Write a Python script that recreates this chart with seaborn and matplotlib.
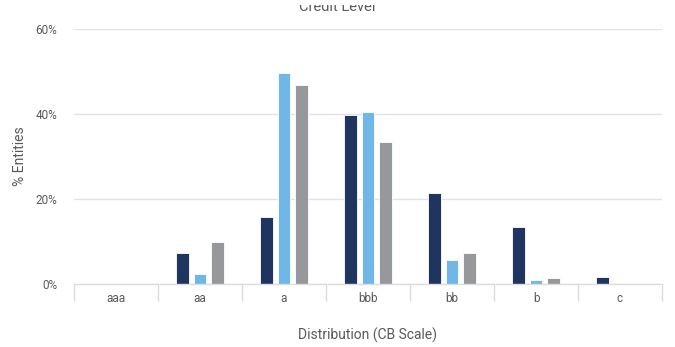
import matplotlib
matplotlib.use("Agg")
import matplotlib.pyplot as plt
from matplotlib.patches import Rectangle
import seaborn as sns
import pandas as pd
import numpy as np

categories = ["aaa", "aa", "a", "bbb", "bb", "b", "c"]
series_names = ["Series A", "Series B", "Series C"]
series_a = [0.0, 7.2, 15.8, 39.7, 21.3, 13.3, 1.6]
series_b = [0.0, 2.3, 49.6, 40.5, 5.6, 0.9, 0.0]
series_c = [0.0, 9.9, 46.9, 33.3, 7.3, 1.4, 0.0]
y_ticks = [0, 20, 40, 60]
colors = ["#1f3560", "#70b7e7", "#96989b"]

df = pd.DataFrame({
    "category": categories * 3,
    "series": [series_names[0]] * 7 + [series_names[1]] * 7 + [series_names[2]] * 7,
    "value": series_a + series_b + series_c,
})

sns.set_theme(style="white")
plt.rcParams["font.family"] = ["Roboto", "DejaVu Sans"]

fig = plt.figure(figsize=(6.75, 3.47), dpi=100)
ax = fig.add_axes([74 / 675, 1 - 284 / 347, (662 - 74) / 675, (284 - 29) / 347])

sns.barplot(data=df, x="category", y="value", hue="series", order=categories,
            hue_order=series_names, palette=colors, width=0.62, gap=0.26,
            saturation=1, errorbar=None, legend=False, ax=ax,
            edgecolor="white", linewidth=0.6)

ax.set_xlim(-0.5, len(categories) - 0.5)
ax.set_ylim(0, 60)
ax.set_yticks(y_ticks)
ax.set_yticklabels([f"{v}%" for v in y_ticks])
ax.yaxis.grid(True, color="#e3e3e3", linewidth=1)
ax.set_axisbelow(True)

for side in ["left", "right", "top"]:
    ax.spines[side].set_visible(False)
ax.spines["bottom"].set_color("#dcdcdc")
ax.spines["bottom"].set_linewidth(1)

# Category separators drawn as minor ticks below the axis
ax.set_xticks(np.arange(-0.5, len(categories), 1.0), minor=True)
ax.tick_params(axis="x", which="minor", length=12, color="#dcdcdc", width=1, bottom=True)
ax.tick_params(axis="x", which="major", length=0, pad=6, labelsize=8.5, labelcolor="#595959")
ax.tick_params(axis="y", length=0, pad=12, labelsize=8.5, labelcolor="#595959")

ax.set_xlabel("Distribution (CB Scale)", fontsize=10, color="#595959", labelpad=16)
ax.set_ylabel("% Entities", fontsize=10, color="#595959", labelpad=6)

fig.text(0.5, 1 - 11 / 347, "Credit Level", ha="center", va="baseline",
         fontsize=10.5, color="#595959")
# White band along the top edge of the canvas, over the upper part of the title
fig.patches.append(Rectangle((0, 1 - 5 / 347), 1, 5 / 347, transform=fig.transFigure,
                             facecolor="white", edgecolor="none", zorder=10))

fig.savefig("out.png", dpi=100)
